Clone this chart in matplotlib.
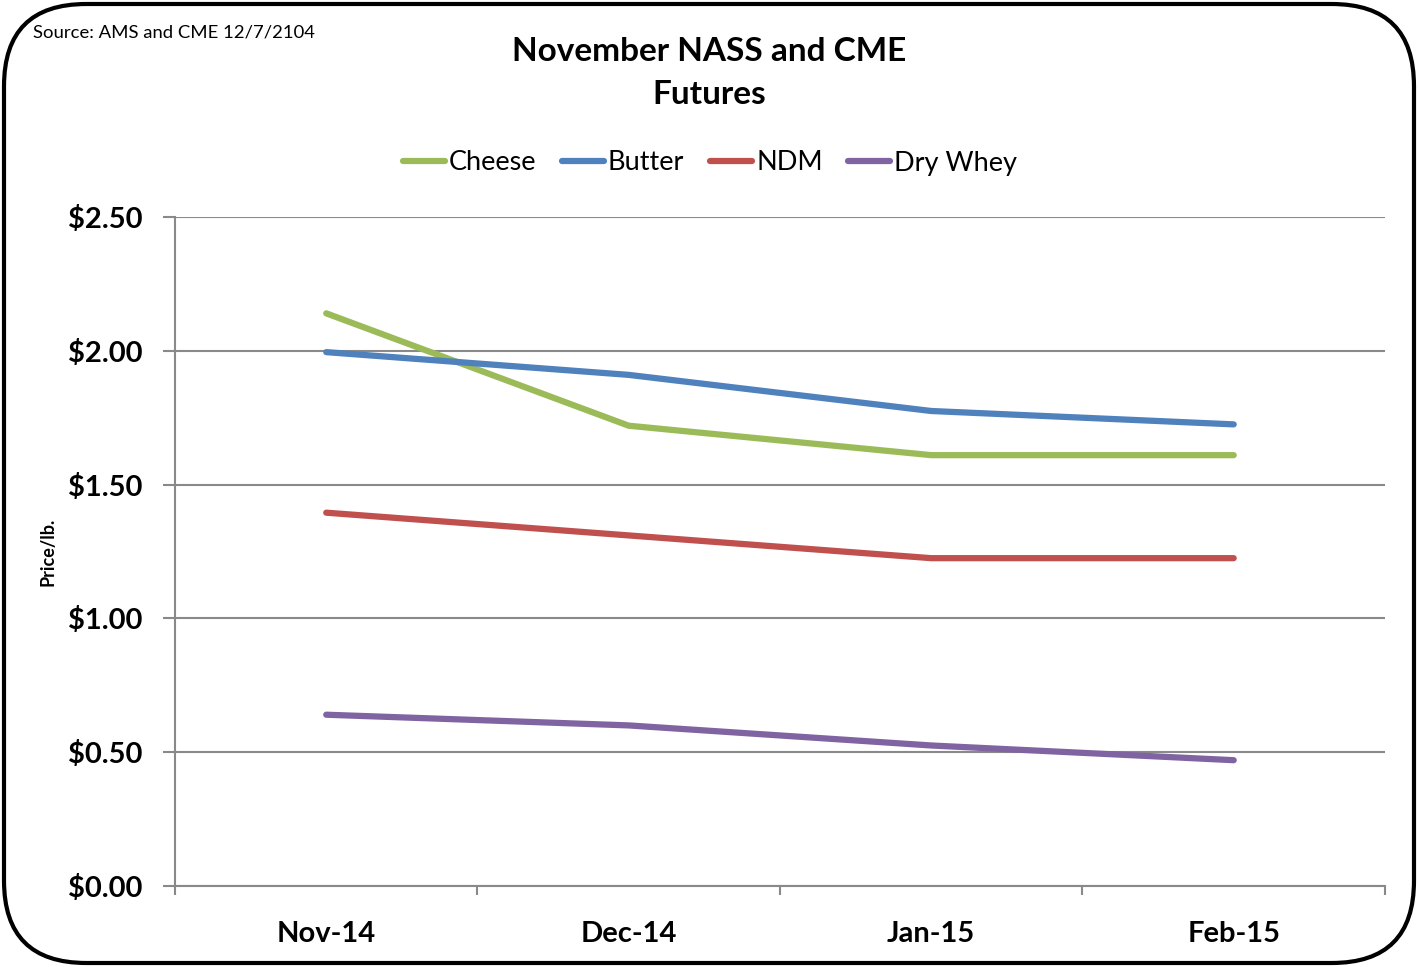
import matplotlib.pyplot as plt
from matplotlib.patches import FancyBboxPatch
from matplotlib.ticker import FuncFormatter, MultipleLocator

plt.rcParams['font.family'] = ['Lato', 'DejaVu Sans']

months = ['Nov-14', 'Dec-14', 'Jan-15', 'Feb-15']
cheese = [2.14, 1.72, 1.61, 1.61]
butter = [1.995, 1.91, 1.775, 1.725]
ndm = [1.395, 1.31, 1.225, 1.225]
dry_whey = [0.64, 0.60, 0.525, 0.47]

series = [('Cheese', cheese, '#9BBB59'),
          ('Butter', butter, '#4F81BD'),
          ('NDM', ndm, '#C0504D'),
          ('Dry Whey', dry_whey, '#8064A2')]

fig = plt.figure(figsize=(14.18, 9.67), dpi=100)
ax = fig.add_axes([0.1234, 0.0838, 0.8533, 0.6918])

x = range(len(months))
for name, vals, col in series:
    ax.plot(x, vals, color=col, lw=4.5, label=name, solid_capstyle='round')

ax.set_xlim(-0.5, 3.5)
ax.set_ylim(0, 2.5)
ax.yaxis.set_major_locator(MultipleLocator(0.5))
ax.yaxis.set_major_formatter(FuncFormatter(lambda v, p: f'${v:.2f}'))
ax.set_xticks(list(x))
ax.set_xticklabels(months)
ax.set_xticks([-0.5, 0.5, 1.5, 2.5, 3.5], minor=True)
ax.tick_params(axis='x', which='major', length=0, pad=25)
ax.tick_params(axis='x', which='minor', length=6.5, color='#898989', width=1.5, direction='out')
ax.tick_params(axis='y', length=8.6, color='#898989', width=1.5, direction='out', pad=15)
for lab in ax.get_xticklabels() + ax.get_yticklabels():
    lab.set_fontweight('bold')
    lab.set_fontsize(21)

ax.grid(axis='y', color='#898989', lw=1.5)
ax.set_axisbelow(True)
for s in ['top', 'right']:
    ax.spines[s].set_visible(False)
for s in ['left', 'bottom']:
    ax.spines[s].set_color('#898989')
    ax.spines[s].set_linewidth(1.5)

fig.text(48 / 1418, 1 - 552 / 967, 'Price/lb.', rotation=90, fontsize=13,
         fontweight='bold', ha='center', va='center')

fig.text(0.5, 1 - 73 / 967, 'November NASS and CME\nFutures', ha='center', va='center',
         fontsize=24, fontweight='bold', linespacing=1.6)
fig.text(33 / 1418, 1 - 33 / 967, 'Source: AMS and CME 12/7/2104', ha='left', va='center',
         fontsize=13.3)

fig.legend(loc='center', bbox_to_anchor=(710 / 1418, 1 - 163 / 967), ncol=4, frameon=False,
           fontsize=19.5, handlelength=1.55, handletextpad=0.15, columnspacing=0.95)

border = FancyBboxPatch((4 / 1418, 4 / 967), 1410 / 1418, 959 / 967,
                        boxstyle='round,pad=0,rounding_size=0.058',
                        transform=fig.transFigure, fill=False, ec='black', lw=3,
                        mutation_aspect=1418 / 967)
fig.patches.append(border)

fig.savefig('out.png', dpi=100)
